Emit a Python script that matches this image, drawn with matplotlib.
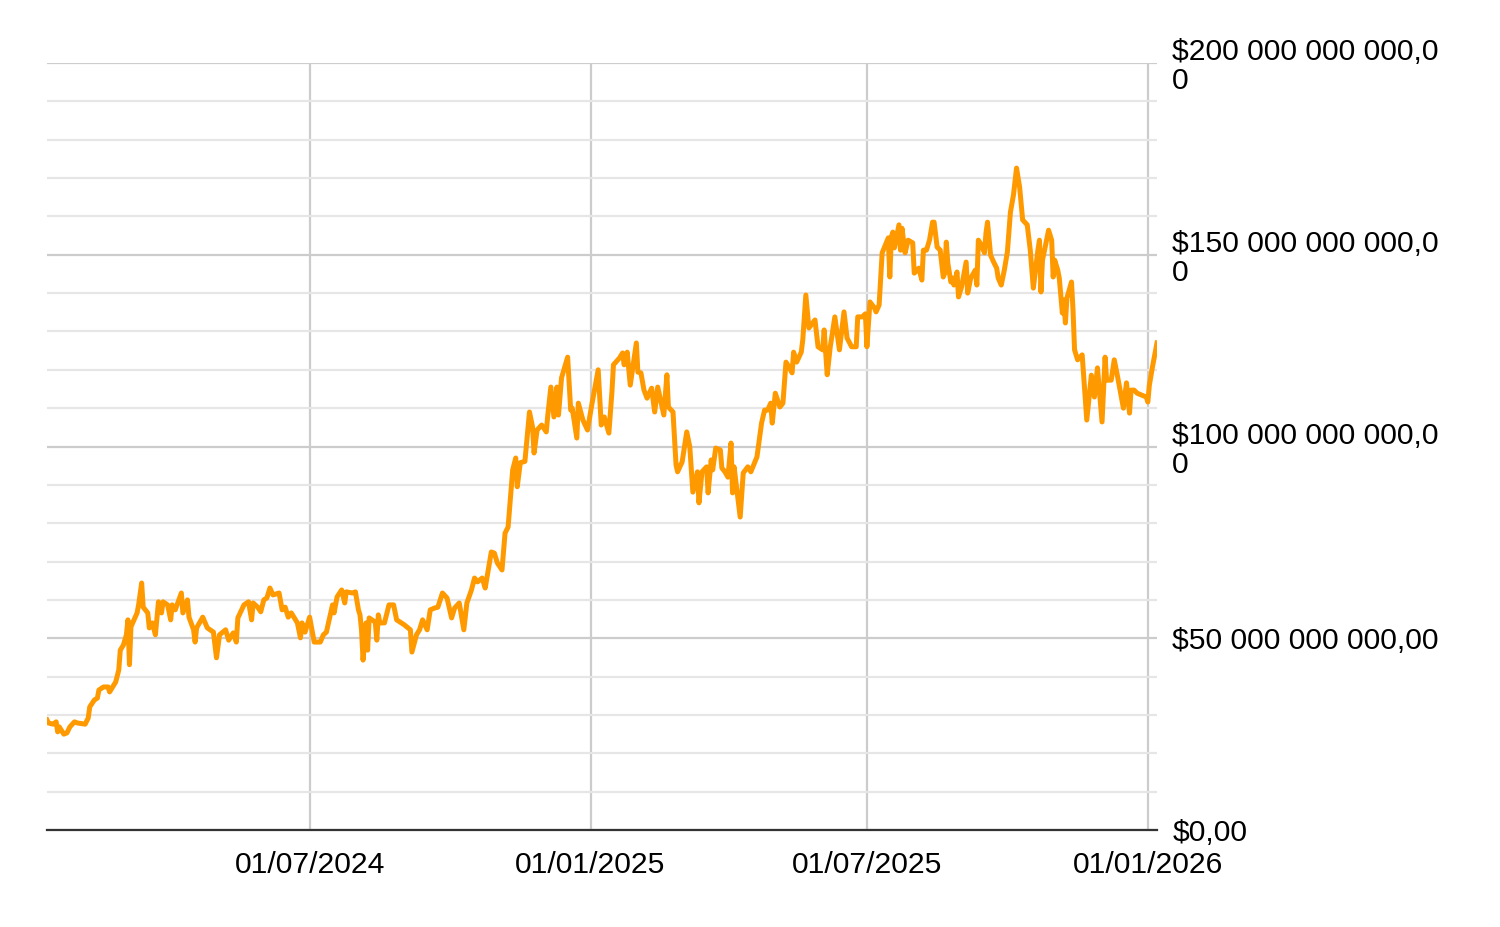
import numpy as np
import pandas as pd
import matplotlib
matplotlib.use("Agg")
import matplotlib.pyplot as plt
from matplotlib.ticker import FuncFormatter, FixedLocator

# assets in billions of dollars
dates = [
    # 2024
    "2024-01-11", "2024-01-12", "2024-01-15", "2024-01-17", "2024-01-18", "2024-01-19", "2024-01-22", "2024-01-24", "2024-01-26", "2024-01-29", "2024-01-31",
    "2024-02-05", "2024-02-07", "2024-02-08", "2024-02-11", "2024-02-13", "2024-02-14", "2024-02-17", "2024-02-20", "2024-02-21", "2024-02-23", "2024-02-25", "2024-02-27", "2024-02-28",
    "2024-03-01", "2024-03-03", "2024-03-04", "2024-03-05", "2024-03-06", "2024-03-10", "2024-03-11", "2024-03-13", "2024-03-14", "2024-03-17", "2024-03-18", "2024-03-20", "2024-03-22", "2024-03-24", "2024-03-26", "2024-03-27", "2024-03-30",
    "2024-04-01", "2024-04-02", "2024-04-04", "2024-04-08", "2024-04-09", "2024-04-12", "2024-04-13", "2024-04-16", "2024-04-17", "2024-04-18", "2024-04-22", "2024-04-25", "2024-04-29",
    "2024-05-01", "2024-05-03", "2024-05-07", "2024-05-09", "2024-05-12", "2024-05-14", "2024-05-15", "2024-05-19", "2024-05-22", "2024-05-24", "2024-05-25", "2024-05-28", "2024-05-30",
    "2024-06-01", "2024-06-03", "2024-06-05", "2024-06-07", "2024-06-11", "2024-06-13", "2024-06-15", "2024-06-17", "2024-06-19", "2024-06-23", "2024-06-25", "2024-06-26", "2024-06-28",
    "2024-07-01", "2024-07-04", "2024-07-08", "2024-07-10", "2024-07-12", "2024-07-16", "2024-07-17", "2024-07-19", "2024-07-22", "2024-07-24", "2024-07-25", "2024-07-29", "2024-07-31",
    "2024-08-02", "2024-08-03", "2024-08-04", "2024-08-05", "2024-08-07", "2024-08-08", "2024-08-09", "2024-08-13", "2024-08-14", "2024-08-15", "2024-08-16", "2024-08-19", "2024-08-22", "2024-08-25", "2024-08-27",
    "2024-09-01", "2024-09-05", "2024-09-06", "2024-09-09", "2024-09-11", "2024-09-13", "2024-09-16", "2024-09-18", "2024-09-21", "2024-09-23", "2024-09-26", "2024-09-29",
    "2024-10-02", "2024-10-04", "2024-10-07", "2024-10-10", "2024-10-12", "2024-10-15", "2024-10-17", "2024-10-19", "2024-10-22", "2024-10-24", "2024-10-28", "2024-10-30",
    "2024-11-01", "2024-11-04", "2024-11-06", "2024-11-08", "2024-11-11", "2024-11-13", "2024-11-14", "2024-11-16", "2024-11-19", "2024-11-22", "2024-11-24", "2024-11-25", "2024-11-27", "2024-11-30",
    "2024-12-03", "2024-12-04", "2024-12-06", "2024-12-08", "2024-12-10", "2024-12-11", "2024-12-13", "2024-12-17", "2024-12-19", "2024-12-20", "2024-12-23", "2024-12-24", "2024-12-27", "2024-12-30",
    # 2025
    "2025-01-02", "2025-01-06", "2025-01-08", "2025-01-10", "2025-01-13", "2025-01-15", "2025-01-16", "2025-01-20", "2025-01-22", "2025-01-23", "2025-01-25", "2025-01-27", "2025-01-31",
    "2025-02-01", "2025-02-03", "2025-02-05", "2025-02-07", "2025-02-10", "2025-02-12", "2025-02-14", "2025-02-18", "2025-02-20", "2025-02-21", "2025-02-24", "2025-02-26", "2025-02-27",
    "2025-03-02", "2025-03-05", "2025-03-07", "2025-03-09", "2025-03-12", "2025-03-13", "2025-03-15", "2025-03-18", "2025-03-19", "2025-03-21", "2025-03-22", "2025-03-24", "2025-03-27", "2025-03-28", "2025-03-30",
    "2025-04-01", "2025-04-03", "2025-04-04", "2025-04-05", "2025-04-09", "2025-04-11", "2025-04-14", "2025-04-16", "2025-04-20", "2025-04-23", "2025-04-25", "2025-04-27", "2025-04-29", "2025-04-30",
    "2025-05-02", "2025-05-05", "2025-05-07", "2025-05-09", "2025-05-11", "2025-05-13", "2025-05-14", "2025-05-16", "2025-05-19", "2025-05-20", "2025-05-22", "2025-05-24", "2025-05-28", "2025-05-30",
    "2025-06-02", "2025-06-03", "2025-06-05", "2025-06-07", "2025-06-10", "2025-06-13", "2025-06-16", "2025-06-18", "2025-06-21", "2025-06-24", "2025-06-25", "2025-06-28", "2025-06-30",
    "2025-07-01", "2025-07-03", "2025-07-06", "2025-07-07", "2025-07-09", "2025-07-11", "2025-07-15", "2025-07-16", "2025-07-17", "2025-07-18", "2025-07-19", "2025-07-22", "2025-07-23", "2025-07-24", "2025-07-26", "2025-07-28", "2025-07-31",
    "2025-08-01", "2025-08-04", "2025-08-06", "2025-08-07", "2025-08-09", "2025-08-11", "2025-08-13", "2025-08-14", "2025-08-16", "2025-08-18", "2025-08-20", "2025-08-21", "2025-08-22", "2025-08-23", "2025-08-25", "2025-08-26", "2025-08-27", "2025-08-29", "2025-08-30",
    "2025-09-01", "2025-09-04", "2025-09-05", "2025-09-07", "2025-09-10", "2025-09-11", "2025-09-12", "2025-09-14", "2025-09-16", "2025-09-17", "2025-09-18", "2025-09-20", "2025-09-22", "2025-09-24", "2025-09-25", "2025-09-27", "2025-09-29",
    "2025-10-01", "2025-10-03", "2025-10-05", "2025-10-07", "2025-10-09", "2025-10-11", "2025-10-14", "2025-10-16", "2025-10-18", "2025-10-21", "2025-10-22", "2025-10-23", "2025-10-24", "2025-10-28", "2025-10-30", "2025-10-31",
    "2025-11-01", "2025-11-03", "2025-11-04", "2025-11-06", "2025-11-07", "2025-11-08", "2025-11-09", "2025-11-12", "2025-11-13", "2025-11-14", "2025-11-16", "2025-11-19", "2025-11-20", "2025-11-22", "2025-11-25", "2025-11-27", "2025-11-29",
    "2025-12-02", "2025-12-04", "2025-12-05", "2025-12-08", "2025-12-10", "2025-12-12", "2025-12-16", "2025-12-18", "2025-12-20", "2025-12-21", "2025-12-23", "2025-12-25", "2025-12-31",
    # 2026
    "2026-01-01", "2026-01-02", "2026-01-04", "2026-01-07",
]

aum_bn = [
    # 2024
    28.7, 27.9, 27.6, 28.2, 25.6, 26.9, 25.0, 25.3, 26.9, 28.2, 27.9,
    27.6, 29.2, 32.1, 33.9, 34.4, 36.5, 37.3, 37.3, 36.0, 37.3, 38.6, 41.7, 46.9,
    48.2, 50.9, 54.8, 43.1, 53.0, 56.6, 58.7, 64.4, 58.1, 56.6, 52.7, 54.0, 50.9, 59.5, 56.6, 59.5, 58.7,
    54.8, 58.7, 57.4, 61.8, 56.6, 60.0, 55.5, 52.2, 49.0, 52.7, 55.5, 52.7, 51.6,
    44.9, 50.9, 52.2, 49.5, 51.4, 49.0, 55.3, 58.7, 59.5, 54.8, 59.2, 58.1, 56.9,
    60.0, 60.5, 63.1, 61.3, 61.8, 57.4, 58.1, 55.5, 56.6, 54.0, 50.1, 54.0, 51.6,
    55.5, 49.0, 49.0, 50.9, 51.6, 58.7, 56.6, 60.8, 62.6, 59.2, 62.1, 61.8, 62.1,
    57.4, 56.1, 52.2, 44.3, 54.0, 46.9, 55.3, 54.2, 49.5, 56.1, 54.0, 54.0, 58.7, 58.7, 54.8,
    53.5, 52.2, 46.4, 50.9, 52.2, 54.8, 52.2, 57.4, 57.9, 58.1, 61.8, 60.5,
    55.3, 57.9, 59.2, 52.2, 59.2, 62.6, 65.7, 64.7, 65.7, 63.1, 72.5, 72.2,
    69.6, 67.8, 77.4, 79.0, 93.9, 97.0, 89.5, 95.8, 96.1, 109.0, 105.1, 98.3, 104.3, 105.6,
    103.8, 108.2, 115.5, 107.7, 115.5, 108.2, 117.9, 123.3, 109.5, 110.0, 102.2, 111.3, 106.9, 104.3,
    # 2025
    111.3, 120.0, 105.6, 107.7, 103.5, 114.2, 121.3, 123.1, 124.4, 121.3, 124.6, 116.0, 127.0,
    119.4, 119.2, 114.7, 112.6, 115.2, 109.0, 115.5, 108.2, 118.7, 110.3, 109.0, 95.2, 93.4,
    96.0, 103.8, 99.9, 88.1, 93.4, 85.3, 93.4, 94.7, 87.9, 96.5, 93.9, 99.6, 99.1, 94.4, 93.4,
    92.0, 100.9, 87.9, 94.7, 81.6, 93.1, 94.7, 93.4, 97.3, 106.1, 109.5, 109.5, 111.3, 106.1,
    113.9, 110.3, 111.3, 122.0, 120.7, 119.2, 124.6, 122.0, 124.6, 127.8, 139.5, 130.9, 133.0, 126.0,
    125.2, 130.4, 118.7, 126.0, 133.8, 125.2, 135.1, 128.3, 126.0, 126.0, 133.8, 133.8, 134.6,
    126.0, 137.7, 136.1, 135.1, 136.9, 150.5, 154.4, 144.2, 154.6, 155.9, 151.8, 157.8, 151.2, 156.9, 150.5, 153.8, 153.1,
    145.2, 146.5, 143.4, 151.2, 151.2, 153.8, 158.5, 158.5, 152.0, 151.2, 144.2, 145.2, 153.3, 147.8, 142.9, 143.9, 142.1, 145.5, 139.0,
    141.6, 148.1, 140.0, 143.9, 146.0, 142.1, 153.8, 152.5, 150.5, 155.7, 158.5, 149.9, 148.1, 146.5, 143.9, 142.1, 146.0,
    150.7, 161.1, 165.6, 172.6, 167.7, 159.1, 157.8, 151.2, 141.3, 151.2, 153.8, 140.3, 148.6, 156.4, 153.8, 144.2,
    148.6, 146.0, 143.9, 134.8, 138.2, 132.2, 138.7, 142.9, 135.6, 125.2, 122.6, 123.9, 118.1, 106.9, 118.6, 112.9, 120.5,
    106.4, 123.3, 117.3, 117.3, 122.6, 118.6, 110.0, 116.6, 108.7, 114.7, 114.7, 113.9, 112.9,
    # 2026
    111.6, 116.0, 120.7, 127.0,
]

tick_dates = ["2024-07-01", "2025-01-01", "2025-07-01", "2026-01-01"]
tick_labels = ["01/07/2024", "01/01/2025", "01/07/2025", "01/01/2026"]
y_major = [0, 50, 100, 150, 200]
y_minor = [v for v in range(0, 201, 10) if v % 50]

assert len(dates) == len(aum_bn)


def money(v, pos):
    s = "${:,.2f}".format(v).replace(",", " ").replace(".", ",")
    if len(s) > 18:
        s = s[:18] + "\n" + s[18:]
    return s


plt.rcParams['font.family'] = ['Liberation Sans', 'DejaVu Sans']

fig = plt.figure(figsize=(15, 9.27), dpi=100)
ax = fig.add_axes([47 / 1500, 97 / 927, 1110 / 1500, 767 / 927])

x = pd.to_datetime(dates)
y = np.array(aum_bn) * 1e9
ax.plot(x, y, color='#ff9900', lw=3.6, zorder=3)

ax.set_xlim(pd.Timestamp("2024-01-11"), pd.Timestamp("2026-01-07"))
ax.set_ylim(0, 200e9)

ax.set_xticks(pd.to_datetime(tick_dates))
ax.set_xticklabels(tick_labels)
ax.yaxis.set_major_locator(FixedLocator([v * 1e9 for v in y_major]))
ax.yaxis.set_minor_locator(FixedLocator([v * 1e9 for v in y_minor]))
ax.yaxis.set_major_formatter(FuncFormatter(money))
ax.yaxis.tick_right()

ax.set_axisbelow(True)
ax.grid(which='major', color='#cccccc', lw=1.6)
ax.grid(which='minor', axis='y', color='#e6e6e6', lw=1.6)

ax.tick_params(axis='both', which='both', length=0, labelsize=21.7, colors='black')
ax.tick_params(axis='y', pad=11)
ax.tick_params(axis='x', pad=15)
for s in ['left', 'right', 'top']:
    ax.spines[s].set_visible(False)
ax.spines['bottom'].set_color('#333333')
ax.spines['bottom'].set_linewidth(1.6)

for lab in ax.get_yticklabels():
    lab.set_linespacing(1.05)

plt.savefig('out.png', dpi=100)
